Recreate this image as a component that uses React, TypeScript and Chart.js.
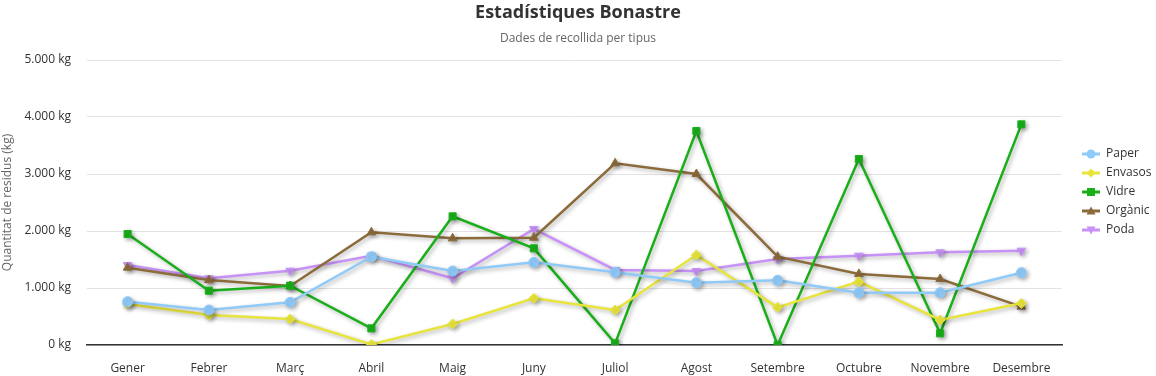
import React, { useEffect, useRef } from "react";
import { Chart, registerables } from "chart.js";

Chart.register(...registerables);

const months = ["Gener", "Febrer", "Març", "Abril", "Maig", "Juny", "Juliol", "Agost", "Setembre", "Octubre", "Novembre", "Desembre"];
const paper = [760, 614, 749, 1549, 1298, 1450, 1275, 1094, 1135, 918, 918, 1269];
const envasos = [719, 526, 456, 10, 368, 819, 614, 1579, 661, 1111, 439, 731];
const vidre = [1947, 953, 1041, 292, 2257, 1696, 29, 3754, 0, 3263, 205, 3871];
const organic = [1357, 1140, 1035, 1977, 1871, 1883, 3187, 3000, 1549, 1246, 1158, 673];
const poda = [1404, 1170, 1304, 1567, 1170, 2035, 1316, 1298, 1509, 1567, 1626, 1655];
const yTicks = [0, 1000, 2000, 3000, 4000, 5000];

const FONT = "'Open Sans', 'Noto Sans', sans-serif";

const seriesDefs = [
  { label: "Paper", data: paper, color: "#90caf9", style: "circle", rot: 0 },
  { label: "Envasos", data: envasos, color: "#e8e43c", style: "rectRot", rot: 0 },
  { label: "Vidre", data: vidre, color: "#1aaf1a", style: "rect", rot: 0 },
  { label: "Orgànic", data: organic, color: "#8c6b3b", style: "triangle", rot: 0 },
  { label: "Poda", data: poda, color: "#c792f7", style: "triangle", rot: 180 },
];

function fmt(v: number): string {
  const s = Math.round(v).toString();
  return s.replace(/\B(?=(\d{3})+(?!\d))/g, ".") + " kg";
}

function legendIcon(color: string, style: string, rot: number): HTMLCanvasElement {
  const c = document.createElement("canvas");
  c.width = 18;
  c.height = 12;
  const ctx = c.getContext("2d")!;
  ctx.strokeStyle = color;
  ctx.fillStyle = color;
  ctx.lineWidth = 3;
  ctx.beginPath();
  ctx.moveTo(0, 6);
  ctx.lineTo(18, 6);
  ctx.stroke();
  const cx = 9, cy = 6, r = 4.5;
  ctx.beginPath();
  if (style === "circle") {
    ctx.arc(cx, cy, r, 0, Math.PI * 2);
  } else if (style === "rect") {
    ctx.rect(cx - 4, cy - 4, 8, 8);
  } else if (style === "rectRot") {
    ctx.moveTo(cx, cy - r);
    ctx.lineTo(cx + r, cy);
    ctx.lineTo(cx, cy + r);
    ctx.lineTo(cx - r, cy);
  } else if (rot === 0) {
    ctx.moveTo(cx, cy - r);
    ctx.lineTo(cx + r, cy + r * 0.8);
    ctx.lineTo(cx - r, cy + r * 0.8);
  } else {
    ctx.moveTo(cx, cy + r);
    ctx.lineTo(cx + r, cy - r * 0.8);
    ctx.lineTo(cx - r, cy - r * 0.8);
  }
  ctx.closePath();
  ctx.fill();
  return c;
}

const shadowPlugin = {
  id: "shadowPlugin",
  beforeDatasetDraw(chart: any) {
    const ctx = chart.ctx;
    ctx.save();
    ctx.shadowColor = "rgba(0,0,0,0.3)";
    ctx.shadowBlur = 4;
    ctx.shadowOffsetX = 2;
    ctx.shadowOffsetY = 2;
  },
  afterDatasetDraw(chart: any) {
    chart.ctx.restore();
  },
};

const legendPatch = {
  id: "legendPatch",
  beforeLayout(chart: any) {
    const lg = chart.legend;
    if (lg && !lg.__patched) {
      const orig = lg.fit.bind(lg);
      lg.fit = () => {
        orig();
        lg.width = 94;
      };
      lg.__patched = true;
    }
  },
  afterLayout(chart: any) {
    const lg = chart.legend;
    if (lg) {
      lg.left += 13;
      lg.right += 13;
      lg.top += 3;
      lg.bottom += 3;
    }
  },
};

export default function App() {
  const ref = useRef<HTMLCanvasElement>(null);
  useEffect(() => {
    document.body.style.margin = "0";
    const icons = seriesDefs.map((s) => legendIcon(s.color, s.style, s.rot));
    const chart = new Chart(ref.current!, {
      type: "line",
      data: {
        labels: months,
        datasets: seriesDefs.map((s) => ({
          label: s.label,
          data: s.data,
          borderColor: s.color,
          backgroundColor: s.color,
          pointBackgroundColor: s.color,
          pointBorderColor: s.color,
          pointStyle: s.style as any,
          rotation: s.rot,
          pointRadius: 5,
          pointBorderWidth: 1,
          borderWidth: 2.5,
          tension: 0,
          fill: false,
        })),
      },
      plugins: [shadowPlugin, legendPatch],
      options: {
        animation: false,
        responsive: false,
        maintainAspectRatio: false,
        layout: { padding: { left: 0, right: 0, top: 2, bottom: 0 } },
        plugins: {
          title: {
            display: true,
            text: "Estadístiques Bonastre",
            color: "#333333",
            font: { family: FONT, size: 18, weight: "bold" },
            padding: { top: 0, bottom: 8 },
          },
          subtitle: {
            display: true,
            text: "Dades de recollida per tipus",
            color: "#666666",
            font: { family: FONT, size: 12 },
            padding: { top: 0, bottom: 14 },
          },
          legend: {
            position: "right",
            align: "center",
            labels: {
              usePointStyle: true,
              pointStyleWidth: 18,
              color: "#333333",
              font: { family: FONT, size: 12 },
              padding: 7,
              generateLabels: (ch: any) =>
                ch.data.datasets.map((d: any, i: number) => ({
                  text: d.label,
                  pointStyle: icons[i],
                  fillStyle: d.borderColor,
                  strokeStyle: d.borderColor,
                  lineWidth: 0,
                  hidden: false,
                  datasetIndex: i,
                  fontColor: "#333333",
                })),
            },
          },
          tooltip: { enabled: false },
        },
        scales: {
          x: {
            offset: true,
            grid: { display: false, drawTicks: false },
            border: { display: true, color: "#333333", width: 1.5 },
            afterFit: (axis: any) => {
              axis.height = 31;
            },
            ticks: { color: "#333333", font: { family: FONT, size: 12 }, padding: 16, maxRotation: 0, autoSkip: false },
          },
          y: {
            min: 0,
            max: 5000,
            afterBuildTicks: (axis: any) => {
              axis.ticks = yTicks.map((v) => ({ value: v }));
            },
            afterFit: (axis: any) => {
              axis.width = 87;
            },
            grid: { color: "#e3e3e3", drawTicks: false },
            border: { display: false },
            title: {
              display: true,
              text: "Quantitat de residus (kg)",
              color: "#666666",
              font: { family: FONT, size: 12 },
              padding: { top: 0, bottom: 4 },
            },
            ticks: {
              color: "#333333",
              font: { family: FONT, size: 12 },
              padding: 16,
              callback: (v: any) => fmt(Number(v)),
            },
          },
        },
      },
    } as any);
    return () => chart.destroy();
  }, []);
  return <canvas ref={ref} width={1156} height={376} style={{ display: "block" }} />;
}
